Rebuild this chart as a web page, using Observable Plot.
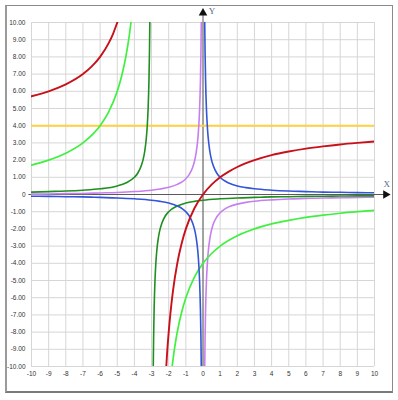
<!DOCTYPE html>
<html>
<head>
<meta charset="utf-8">
<script src="https://cdn.jsdelivr.net/npm/d3@7"></script>
<script src="https://cdn.jsdelivr.net/npm/@observablehq/plot@0.6"></script>
<style>
  html, body { margin: 0; padding: 0; background: #fff; }
  #wrap { position: relative; width: 398px; height: 400px; }
  #frame { position: absolute; left: 5px; top: 5px; width: 385px; height: 385px;
           border: 1px solid #8a8a8a; border-left: 2px solid #9a9a9a; border-bottom: 2px solid #7a7a7a; box-sizing: content-box; }
  #wrap svg { position: absolute; left: 0; top: 0; }
</style>
</head>
<body>
<div id="wrap"><div id="frame"></div></div>
<script>
// ---- tick values and labels ----
const xTicks = [-10,-9,-8,-7,-6,-5,-4,-3,-2,-1,0,1,2,3,4,5,6,7,8,9,10];
const xTickLabels = ["-10","-9","-8","-7","-6","-5","-4","-3","-2","-1","0","1","2","3","4","5","6","7","8","9","10"];
const yTicks = [-10,-9,-8,-7,-6,-5,-4,-3,-2,-1,0,1,2,3,4,5,6,7,8,9,10];
const yTickLabels = ["-10.00","-9.00","-8.00","-7.00","-6.00","-5.00","-4.00","-3.00","-2.00","-1.00","0","1.00","2.00","3.00","4.00","5.00","6.00","7.00","8.00","9.00","10.00"];

// ---- series (null separates the two branches) ----
const blueX = [-10,-9,-8,-7,-6,-5,-4,-3,-2.5,-2,-1.5,-1.2,-1,-0.8,-0.6,-0.5,-0.4,-0.3,-0.25,-0.2,-0.15,-0.12,-0.1, null,
               0.1,0.12,0.15,0.2,0.25,0.3,0.4,0.5,0.6,0.8,1,1.2,1.5,2,2.5,3,4,5,6,7,8,9,10];
const blueY = [-0.10,-0.11,-0.13,-0.14,-0.17,-0.20,-0.25,-0.33,-0.40,-0.50,-0.67,-0.83,-1.00,-1.25,-1.67,-2.00,-2.50,-3.33,-4.00,-5.00,-6.67,-8.33,-10.00, null,
               10.00,8.33,6.67,5.00,4.00,3.33,2.50,2.00,1.67,1.25,1.00,0.83,0.67,0.50,0.40,0.33,0.25,0.20,0.17,0.14,0.13,0.11,0.10];

const violetX = [-10,-9,-8,-7,-6,-5,-4,-3,-2.5,-2,-1.5,-1.2,-1,-0.8,-0.6,-0.5,-0.4,-0.3,-0.25,-0.2,-0.15,-0.12,-0.1, null,
                 0.1,0.12,0.15,0.2,0.25,0.3,0.4,0.5,0.6,0.8,1,1.2,1.5,2,2.5,3,4,5,6,7,8,9,10];
const violetY = [0.02,0.03,0.05,0.06,0.09,0.12,0.17,0.25,0.32,0.42,0.59,0.75,0.92,1.17,1.59,1.92,2.42,3.25,3.92,4.92,6.59,8.25,10.00, null,
                 -10.00,-8.39,-6.72,-5.06,-4.06,-3.39,-2.56,-2.06,-1.72,-1.31,-1.06,-0.89,-0.72,-0.56,-0.46,-0.39,-0.31,-0.26,-0.23,-0.20,-0.19,-0.17,-0.16];

const darkGreenX = [-10,-9,-8,-7,-6,-5,-4.5,-4,-3.8,-3.6,-3.5,-3.4,-3.3,-3.25,-3.2,-3.15,-3.12,-3.1, null,
                    -2.9,-2.88,-2.85,-2.8,-2.75,-2.7,-2.6,-2.5,-2.4,-2.2,-2,-1.5,-1,-0.5,0,1,2,3,4,5,6,7,8,9,10];
const darkGreenY = [0.14,0.17,0.20,0.25,0.33,0.50,0.67,1.00,1.25,1.67,2.00,2.50,3.33,4.00,5.00,6.67,8.33,10.00, null,
                    -10.00,-8.33,-6.67,-5.00,-4.00,-3.33,-2.50,-2.00,-1.67,-1.25,-1.00,-0.67,-0.50,-0.40,-0.33,-0.25,-0.20,-0.17,-0.14,-0.13,-0.11,-0.10,-0.09,-0.08,-0.08];

const lightGreenX = [-10,-9,-8,-7,-6,-5.5,-5,-4.75,-4.5,-4.3,-4.2, null,
                     -1.8,-1.7,-1.6,-1.5,-1.25,-1,-0.5,0,0.5,1,2,3,4,5,6,7,8,9,10];
const lightGreenY = [1.71,2.00,2.40,3.00,4.00,4.80,6.00,6.86,8.00,9.23,10.00, null,
                     -10.00,-9.23,-8.57,-8.00,-6.86,-6.00,-4.80,-4.00,-3.43,-3.00,-2.40,-2.00,-1.71,-1.50,-1.33,-1.20,-1.09,-1.00,-0.92];

const redX = [-10,-9,-8,-7,-6.5,-6,-5.5,-5.25,-5, null,
              -2.14,-2.1,-2,-1.9,-1.75,-1.5,-1.25,-1,-0.5,0,0.5,1,1.5,2,3,4,5,6,7,8,9,10];
const redY = [5.71,6.00,6.40,7.00,7.43,8.00,8.80,9.33,10.00, null,
              -10.00,-9.33,-8.00,-6.91,-5.60,-4.00,-2.86,-2.00,-0.80,0.00,0.57,1.00,1.33,1.60,2.00,2.29,2.50,2.67,2.80,2.91,3.00,3.08];

const yellowX = [-10, 10];
const yellowY = [4, 4];

function pts(xs, ys) { return xs.map((x, i) => ({x: x, y: ys[i]})); }
const xLabelMap = new Map(xTicks.map((t, i) => [t, xTickLabels[i]]));
const yLabelMap = new Map(yTicks.map((t, i) => [t, yTickLabels[i]]));

const lineOpts = (stroke, w) => ({x: "x", y: "y", stroke, strokeWidth: w, curve: "monotone-x", clip: true});

const chart = Plot.plot({
  width: 398,
  height: 400,
  marginLeft: 31,
  marginRight: 24,
  marginTop: 22,
  marginBottom: 34,
  x: {domain: [-10, 10], label: null},
  y: {domain: [-10, 10], label: null},
  style: {background: "transparent", fontFamily: "'Liberation Sans', Arial, sans-serif", fontSize: "6.5px", color: "#333", overflow: "visible"},
  marks: [
    Plot.gridX(xTicks, {stroke: "#d6d6d6", strokeOpacity: 1, strokeWidth: 1}),
    Plot.gridY(yTicks, {stroke: "#d6d6d6", strokeOpacity: 1, strokeWidth: 1}),
    Plot.axisX(xTicks, {tickSize: 0, tickPadding: 5, tickFormat: d => xLabelMap.get(d), fill: "#333", label: null}),
    Plot.axisY(yTicks, {tickSize: 0, tickPadding: 6, tickFormat: d => yLabelMap.get(d), fill: "#333", label: null}),
    // coordinate axes through origin
    Plot.ruleY([0], {x1: -10.15, x2: 10.75, stroke: "#5a5a5a", strokeWidth: 1}),
    Plot.ruleX([0], {y1: -10, y2: 10.6, stroke: "#5a5a5a", strokeWidth: 1}),
    // curves
    Plot.line(pts(yellowX, yellowY), lineOpts("#ffd040", 2)),
    Plot.line(pts(violetX, violetY), lineOpts("#c77ff0", 1.6)),
    Plot.line(pts(darkGreenX, darkGreenY), lineOpts("#1f8f1f", 1.6)),
    Plot.line(pts(lightGreenX, lightGreenY), lineOpts("#3ff03f", 1.7)),
    Plot.line(pts(blueX, blueY), lineOpts("#3355d8", 1.6)),
    Plot.line(pts(redX, redY), lineOpts("#c8101a", 1.9)),
    // arrow heads and axis names
    Plot.dot([0], {x: 10.65, y: 0, symbol: "triangle", rotate: 90, r: 3.2, fill: "#111", stroke: "none"}),
    Plot.dot([0], {x: 0, y: 10.55, symbol: "triangle", r: 3.2, fill: "#111", stroke: "none"}),
    Plot.text(["X"], {x: 10.72, y: 0.58, text: d => d, fontSize: 9, fontFamily: "'Liberation Serif', serif", fill: "#56688c"}),
    Plot.text(["Y"], {x: 0.52, y: 10.65, text: d => d, fontSize: 9, fontFamily: "'Liberation Serif', serif", fill: "#56688c"})
  ]
});
document.getElementById("wrap").appendChild(chart);
</script>
</body>
</html>
